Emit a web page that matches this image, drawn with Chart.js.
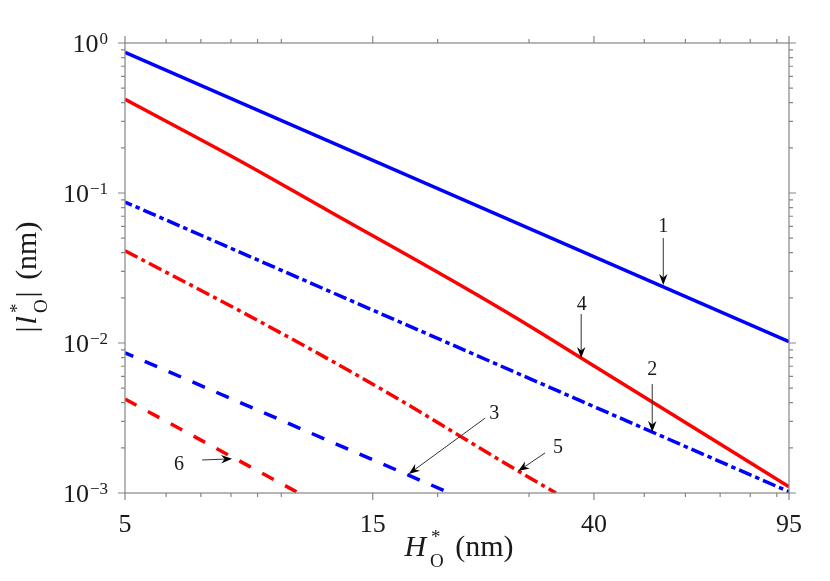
<!DOCTYPE html>
<html>
<head>
<meta charset="utf-8">
<script src="https://cdn.jsdelivr.net/npm/chart.js@4.4.1/dist/chart.umd.min.js"></script>
<style>
html,body{margin:0;padding:0;background:#fff;}
#wrap{width:830px;height:581px;position:relative;}
</style>
</head>
<body>
<div id="wrap"><canvas id="c" width="830" height="581"></canvas></div>
<script>
// ---- data (H* in nm, |l*| in nm) ----
const curve1H = [5, 95],   curve1L = [0.867, 0.0102];   // 1: blue solid
const curve2H = [5, 95],   curve2L = [0.087, 0.00102];  // 2: blue dash-dot
const curve3H = [5, 21.1], curve3L = [0.0086, 0.001];   // 3: blue dashed
const curve4H = [5, 8.33, 12.41, 22.09, 28.40, 37.8, 95];             // 4: red solid
const curve4L = [0.421, 0.1634, 0.0750, 0.02435, 0.01461, 0.00794, 0.0011];
const curve5H = [5, 9.10, 15.49, 28.6, 33.8];           // 5: red dash-dot
const curve5L = [0.0412, 0.01387, 0.00499, 0.00140, 0.001];
const curve6H = [5, 10.8], curve6L = [0.00423, 0.001];  // 6: red dashed

// ---- ticks ----
const xMajorTicks = [5, 15, 40, 95];
const xMajorLabels = ['5', '15', '40', '95'];
const xMinorTicks = [6, 7, 8, 9, 10, 20, 30, 50, 60, 70, 80, 90];
const yMajorTicks = [0.001, 0.01, 0.1, 1];
const yMajorExponents = ['\u22123', '\u22122', '\u22121', '0'];
const yMinorTicks = [0.002,0.003,0.004,0.005,0.006,0.007,0.008,0.009,
                     0.02,0.03,0.04,0.05,0.06,0.07,0.08,0.09,
                     0.2,0.3,0.4,0.5,0.6,0.7,0.8,0.9];

// ---- annotations (data coordinates) ----
const annoLabels = ['1', '2', '3', '4', '5', '6'];
const annoLabelH = [54.4, 51.8, 25.7, 37.9, 34.1, 6.35];
const annoLabelL = [0.0612, 0.00681, 0.00347, 0.01848, 0.00206, 0.00159];
const annoTailH  = [54.4, 51.8, 24.7, 37.8, 32.2, 7.04];
const annoTailL  = [0.0501, 0.00533, 0.00316, 0.0156, 0.00185, 0.00166];
const annoHeadH  = [54.4, 51.8, 17.6, 37.8, 28.6, 8.04];
const annoHeadL  = [0.0244, 0.00255, 0.00134, 0.00794, 0.00140, 0.00169];

const BLUE = '#0000ff', RED = '#ff0000';
const axisColor = '#858585';
const textColor = '#1a1a1a';
const SERIF = '"Liberation Serif", "Times New Roman", serif';

function pts(H, L) { return H.map((h, i) => ({x: h, y: L[i]})); }
function ds(H, L, color, dash, offset, smooth) {
  const d = {data: pts(H, L), borderColor: color, borderWidth: 3.5, borderDash: dash,
          borderDashOffset: offset || 0, pointRadius: 0, fill: false, tension: 0,
          borderCapStyle: 'butt'};
  if (smooth) d.cubicInterpolationMode = 'monotone';
  return d;
}

function drawRuns(ctx, runs, x0, base, measureOnly) {
  let x = x0;
  runs.forEach(r => {
    if (r.stack) {
      let w = 0;
      r.stack.forEach(s => {
        ctx.font = s.font;
        const sw = ctx.measureText(s.t).width;
        if (!measureOnly) ctx.fillText(s.t, x + (s.dx || 0), base + s.dy);
        w = Math.max(w, sw + (s.dx || 0));
      });
      x += w + (r.gap || 0);
    } else {
      ctx.font = r.font;
      if (!measureOnly) ctx.fillText(r.t, x, base + (r.dy || 0));
      x += ctx.measureText(r.t).width + (r.gap || 0);
    }
  });
  return x - x0;
}

function drawArrow(ctx, x1, y1, x2, y2) {
  const ang = Math.atan2(y2 - y1, x2 - x1);
  const dx = Math.cos(ang), dy = Math.sin(ang);
  const L = 11, W = 4.2, back = 7.5;
  ctx.strokeStyle = '#333'; ctx.lineWidth = 1;
  ctx.beginPath();
  ctx.moveTo(x1, y1);
  ctx.lineTo(x2 - back * dx, y2 - back * dy);
  ctx.stroke();
  ctx.fillStyle = '#000';
  ctx.beginPath();
  ctx.moveTo(x2, y2);
  ctx.lineTo(x2 - L * dx - W * dy, y2 - L * dy + W * dx);
  ctx.lineTo(x2 - back * dx, y2 - back * dy);
  ctx.lineTo(x2 - L * dx + W * dy, y2 - L * dy - W * dx);
  ctx.closePath();
  ctx.fill();
}

const axesPlugin = {
  id: 'matlabAxes',
  afterDraw(chart) {
    const ctx = chart.ctx, a = chart.chartArea;
    const xs = chart.scales.x, ys = chart.scales.y;
    ctx.save();
    // box
    ctx.strokeStyle = axisColor; ctx.lineWidth = 1.2;
    ctx.strokeRect(a.left, a.top, a.right - a.left, a.bottom - a.top);
    // ticks (outward on all four sides)
    ctx.beginPath();
    const xt = (v, len) => { const p = xs.getPixelForValue(v);
      ctx.moveTo(p, a.bottom); ctx.lineTo(p, a.bottom + len);
      ctx.moveTo(p, a.top); ctx.lineTo(p, a.top - len); };
    const yt = (v, len) => { const p = ys.getPixelForValue(v);
      ctx.moveTo(a.left - len, p); ctx.lineTo(a.left, p);
      ctx.moveTo(a.right, p); ctx.lineTo(a.right + len, p); };
    xMajorTicks.forEach(v => xt(v, 7));
    xMinorTicks.forEach(v => xt(v, 4));
    yMajorTicks.forEach(v => yt(v, 7));
    yMinorTicks.forEach(v => yt(v, 4));
    ctx.stroke();

    // tick labels
    ctx.fillStyle = textColor;
    ctx.textBaseline = 'alphabetic';
    ctx.textAlign = 'center';
    ctx.font = '26px ' + SERIF;
    xMajorTicks.forEach((v, i) => {
      ctx.fillText(xMajorLabels[i], xs.getPixelForValue(v), a.bottom + 39);
    });
    ctx.textAlign = 'right';
    yMajorTicks.forEach((v, i) => {
      const p = ys.getPixelForValue(v);
      const right = a.left - 17;
      ctx.font = '17px ' + SERIF;
      const sw = ctx.measureText(yMajorExponents[i]).width;
      ctx.fillText(yMajorExponents[i], right, p + 0.5);
      ctx.font = '26px ' + SERIF;
      ctx.fillText('10', right - sw - 1, p + 8.7);
    });

    // axis titles
    ctx.textAlign = 'left';
    const F = '30px ' + SERIF, FI = 'italic 30px ' + SERIF, FS = '19px ' + SERIF;
    const xRuns = [
      {t: 'H', font: FI, gap: 4},
      {stack: [{t: '*', font: FS, dy: -13, dx: 1}, {t: 'O', font: FS, dy: 11}], gap: 4},
      {t: ' (nm)', font: F}
    ];
    const xc = (a.left + a.right) / 2 + 2;
    const wx = drawRuns(ctx, xRuns, 0, 0, true);
    drawRuns(ctx, xRuns, xc - wx / 2, a.bottom + 63);

    const yRuns = [
      {t: '|', font: F, gap: 2},
      {t: 'l', font: FI, gap: 3},
      {stack: [{t: '*', font: FS, dy: -13, dx: 0}, {t: 'O', font: FS, dy: 11}], gap: 2},
      {t: '|', font: F, gap: 4},
      {t: ' (nm)', font: F}
    ];
    const wy = drawRuns(ctx, yRuns, 0, 0, true);
    ctx.save();
    ctx.translate(36, (a.top + a.bottom) / 2 + 9);
    ctx.rotate(-Math.PI / 2);
    drawRuns(ctx, yRuns, -wy / 2, 0);
    ctx.restore();

    // annotations
    annoLabels.forEach((lab, i) => {
      const tx = xs.getPixelForValue(annoTailH[i]), ty = ys.getPixelForValue(annoTailL[i]);
      const hx = xs.getPixelForValue(annoHeadH[i]), hy = ys.getPixelForValue(annoHeadL[i]);
      drawArrow(ctx, tx, ty, hx, hy);
      ctx.fillStyle = textColor;
      ctx.font = '20px ' + SERIF;
      ctx.textAlign = 'center';
      ctx.fillText(lab, xs.getPixelForValue(annoLabelH[i]), ys.getPixelForValue(annoLabelL[i]) + 6.8);
    });
    ctx.restore();
  }
};

new Chart(document.getElementById('c'), {
  type: 'line',
  data: {
    datasets: [
      ds(curve1H, curve1L, BLUE, []),
      ds(curve2H, curve2L, BLUE, [13.5, 4, 4.5, 4], 6),
      ds(curve3H, curve3L, BLUE, [13.5, 12.5], 4.5),
      ds(curve4H, curve4L, RED, [], 0, true),
      ds(curve5H, curve5L, RED, [14, 4.5, 4, 4.5], 0, true),
      ds(curve6H, curve6L, RED, [13, 13], 0)
    ]
  },
  options: {
    responsive: false,
    animation: false,
    layout: {padding: {left: 125, right: 41, top: 43, bottom: 88}},
    scales: {
      x: {type: 'logarithmic', min: 5, max: 95, display: false},
      y: {type: 'logarithmic', min: 0.001, max: 1, display: false}
    },
    plugins: {legend: {display: false}, tooltip: {enabled: false}},
    elements: {line: {borderJoinStyle: 'round'}}
  },
  plugins: [axesPlugin]
});
</script>
</body>
</html>
